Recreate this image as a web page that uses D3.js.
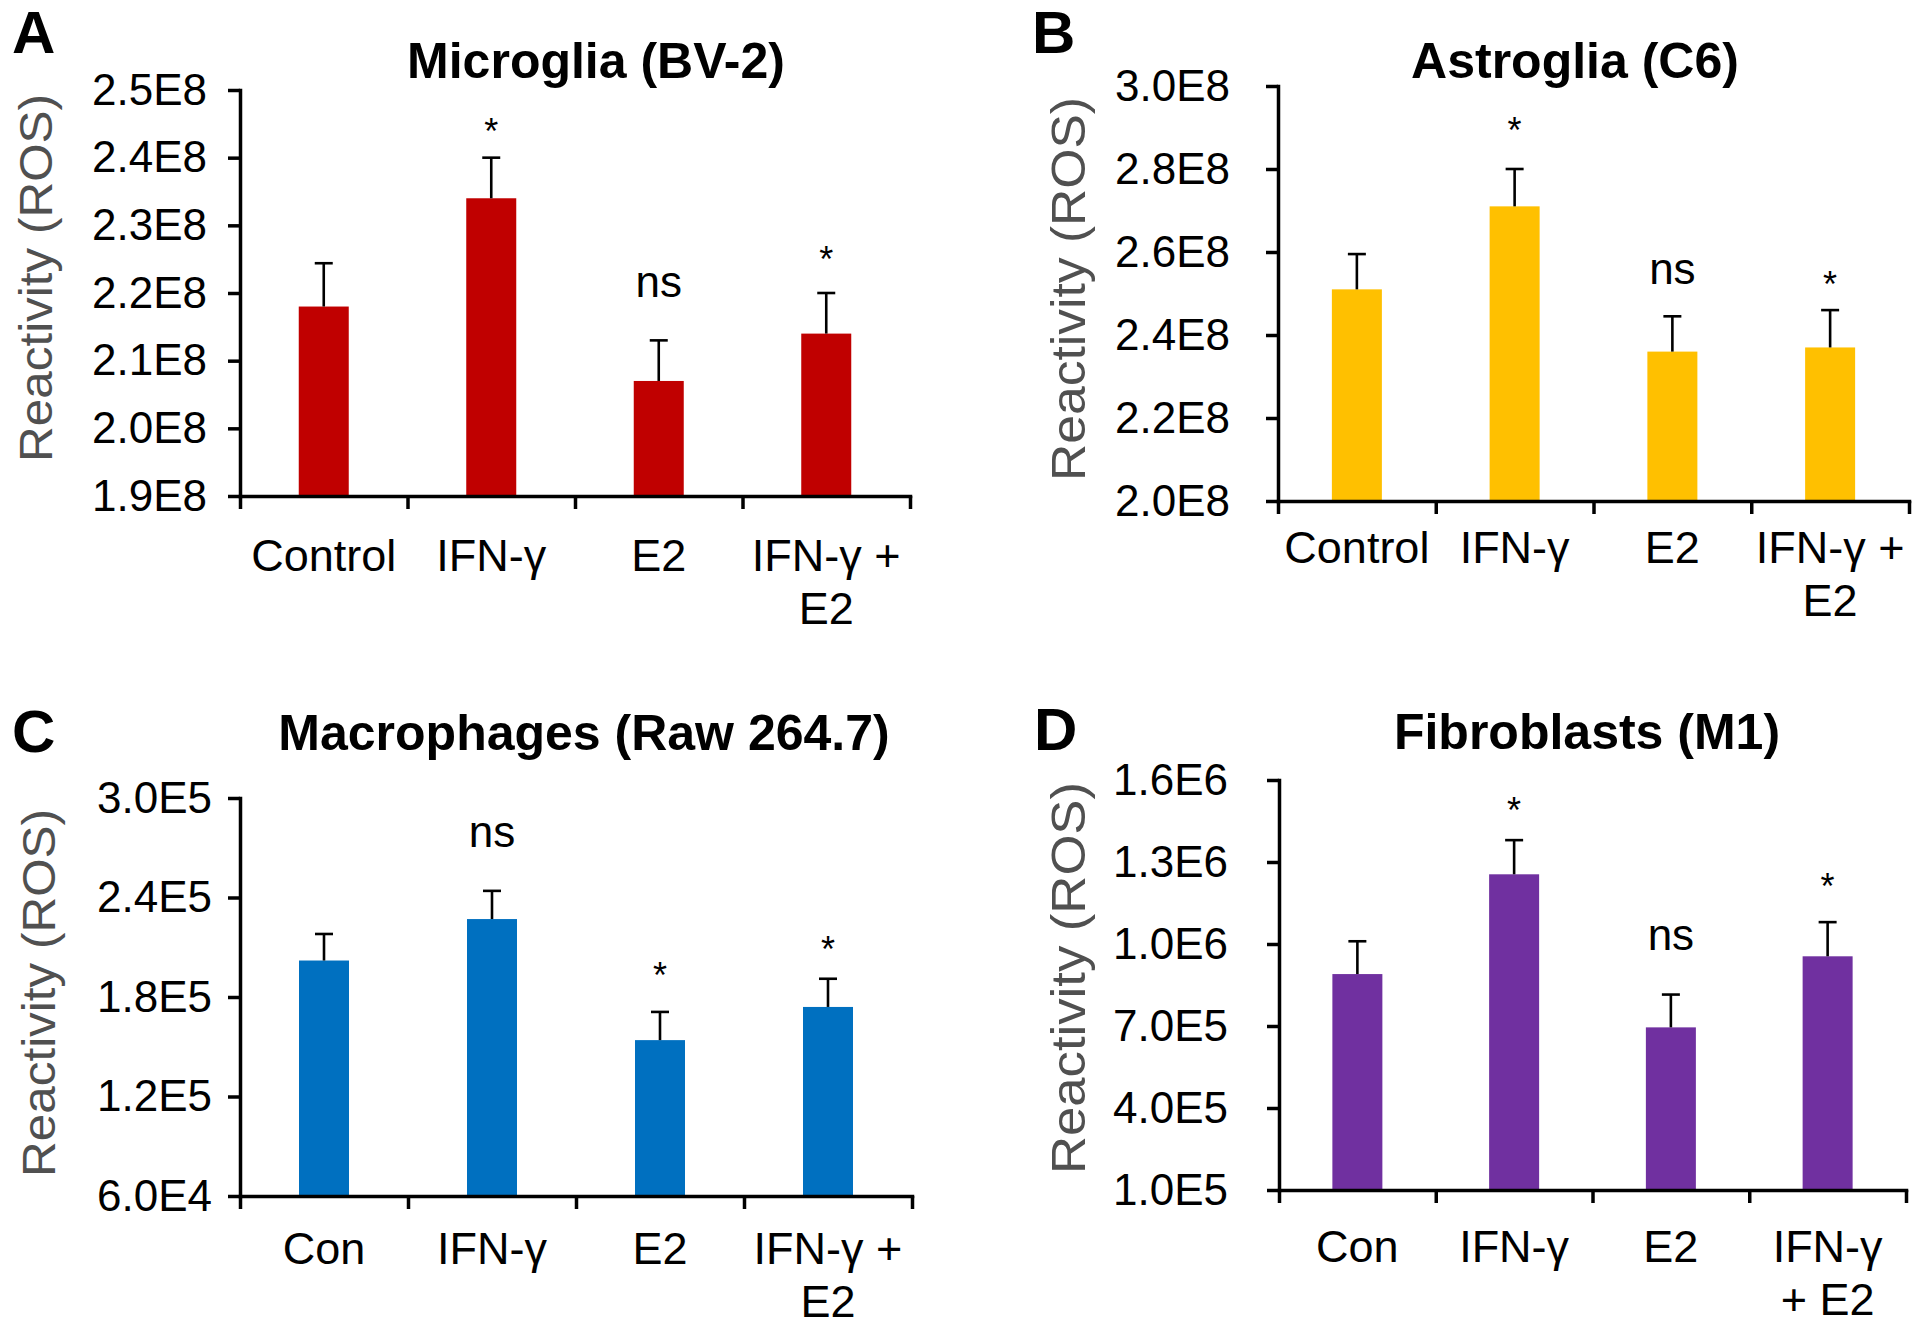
<!DOCTYPE html>
<html>
<head>
<meta charset="utf-8">
<script src="https://cdn.jsdelivr.net/npm/d3@7"></script>
<style>
  body { margin: 0; background: #fff; }
  svg { display: block; }
  text { font-family: "Liberation Sans", Arial, Helvetica, sans-serif; }
</style>
</head>
<body>
<svg id="chart" width="1920" height="1332"></svg>
<script>
// ---------------- DATA ----------------
// Panel A: Microglia (BV-2)
const titleA = "Microglia (BV-2)";
const categoriesA = ["Control", "IFN-γ", "E2", "IFN-γ +|E2"];
const valuesA = [2.18e8, 2.34e8, 2.07e8, 2.14e8];
const errorsA = [0.064e8, 0.06e8, 0.06e8, 0.06e8];
const marksA = ["", "*", "ns", "*"];
const markLevelA = [null, 2.45e8, 2.21e8, 2.26e8];
const tickValuesA = [1.9e8, 2.0e8, 2.1e8, 2.2e8, 2.3e8, 2.4e8, 2.5e8];
const tickLabelsA = ["1.9E8", "2.0E8", "2.1E8", "2.2E8", "2.3E8", "2.4E8", "2.5E8"];

// Panel B: Astroglia (C6)
const titleB = "Astroglia (C6)";
const categoriesB = ["Control", "IFN-γ", "E2", "IFN-γ +|E2"];
const valuesB = [2.51e8, 2.71e8, 2.36e8, 2.37e8];
const errorsB = [0.085e8, 0.09e8, 0.085e8, 0.09e8];
const marksB = ["", "*", "ns", "*"];
const markLevelB = [null, 2.91e8, 2.55e8, 2.54e8];
const tickValuesB = [2.0e8, 2.2e8, 2.4e8, 2.6e8, 2.8e8, 3.0e8];
const tickLabelsB = ["2.0E8", "2.2E8", "2.4E8", "2.6E8", "2.8E8", "3.0E8"];

// Panel C: Macrophages (Raw 264.7)
const titleC = "Macrophages (Raw 264.7)";
const categoriesC = ["Con", "IFN-γ", "E2", "IFN-γ +|E2"];
const valuesC = [2.02e5, 2.27e5, 1.54e5, 1.74e5];
const errorsC = [0.16e5, 0.17e5, 0.17e5, 0.17e5];
const marksC = ["", "ns", "*", "*"];
const markLevelC = [null, 2.77e5, 1.975e5, 2.13e5];
const tickValuesC = [0.6e5, 1.2e5, 1.8e5, 2.4e5, 3.0e5];
const tickLabelsC = ["6.0E4", "1.2E5", "1.8E5", "2.4E5", "3.0E5"];

// Panel D: Fibroblasts (M1)
const titleD = "Fibroblasts (M1)";
const categoriesD = ["Con", "IFN-γ", "E2", "IFN-γ|+ E2"];
const valuesD = [8.9e5, 1.255e6, 6.95e5, 9.55e5];
const errorsD = [1.2e5, 1.25e5, 1.2e5, 1.25e5];
const marksD = ["", "*", "ns", "*"];
const markLevelD = [null, 1.516e6, 1.018e6, 1.238e6];
const tickValuesD = [1.0e5, 4.0e5, 7.0e5, 1.0e6, 1.3e6, 1.6e6];
const tickLabelsD = ["1.0E5", "4.0E5", "7.0E5", "1.0E6", "1.3E6", "1.6E6"];

const yAxisTitle = "Reactivity (ROS)";

// ---------------- LAYOUT / STYLE ----------------
const panels = [
  { letter: "A", title: titleA, cats: categoriesA, vals: valuesA, errs: errorsA, marks: marksA, markLv: markLevelA,
    ticks: tickValuesA, tickLabels: tickLabelsA, color: "#C00000",
    x0: 240, x1: 910, yTop: 90, yBot: 496, tickPad: 21, labOff: 75,
    titleX: 596, titleY: 78, letX: 12, letY: 53, ylabX: 52, ylabY: 278, ylabLen: 368, ylabFs: 46 },
  { letter: "B", title: titleB, cats: categoriesB, vals: valuesB, errs: errorsB, marks: marksB, markLv: markLevelB,
    ticks: tickValuesB, tickLabels: tickLabelsB, color: "#FFC000",
    x0: 1278, x1: 1909, yTop: 86, yBot: 501, tickPad: 36, labOff: 62,
    titleX: 1575, titleY: 78, letX: 1032, letY: 53, ylabX: 1085, ylabY: 289, ylabLen: 384, ylabFs: 48 },
  { letter: "C", title: titleC, cats: categoriesC, vals: valuesC, errs: errorsC, marks: marksC, markLv: markLevelC,
    ticks: tickValuesC, tickLabels: tickLabelsC, color: "#0070C0",
    x0: 240, x1: 912, yTop: 798, yBot: 1196, tickPad: 16, labOff: 68,
    titleX: 584, titleY: 750, letX: 12, letY: 752, ylabX: 55, ylabY: 993, ylabLen: 368, ylabFs: 46 },
  { letter: "D", title: titleD, cats: categoriesD, vals: valuesD, errs: errorsD, marks: marksD, markLv: markLevelD,
    ticks: tickValuesD, tickLabels: tickLabelsD, color: "#7030A0",
    x0: 1279, x1: 1906, yTop: 780, yBot: 1190, tickPad: 39, labOff: 72,
    titleX: 1587, titleY: 749, letX: 1034, letY: 750, ylabX: 1085, ylabY: 978, ylabLen: 392, ylabFs: 48 }
];

const svg = d3.select("#chart");
const barW = 50, capW = 18;

panels.forEach(p => {
  const g = svg.append("g");
  const domainMin = d3.min(p.ticks), domainMax = d3.max(p.ticks);
  const y = d3.scaleLinear().domain([domainMin, domainMax]).range([p.yBot, p.yTop]);
  const x = d3.scaleBand().domain(p.cats).range([p.x0, p.x1]).padding(0);
  const xb = d3.scaleLinear().domain([0, p.cats.length]).range([p.x0, p.x1]);

  // bars
  g.selectAll("rect.bar").data(p.vals).enter().append("rect")
    .attr("class", "bar")
    .attr("x", (d, i) => x(p.cats[i]) + x.bandwidth() / 2 - barW / 2)
    .attr("width", barW)
    .attr("y", d => y(d))
    .attr("height", d => p.yBot - y(d))
    .attr("fill", p.color);

  // error bars
  const eg = g.selectAll("g.err").data(p.vals).enter().append("g").attr("class", "err");
  eg.append("line")
    .attr("x1", (d, i) => x(p.cats[i]) + x.bandwidth() / 2)
    .attr("x2", (d, i) => x(p.cats[i]) + x.bandwidth() / 2)
    .attr("y1", d => y(d))
    .attr("y2", (d, i) => y(d + p.errs[i]))
    .attr("stroke", "#000").attr("stroke-width", 2.6);
  eg.append("line")
    .attr("x1", (d, i) => x(p.cats[i]) + x.bandwidth() / 2 - capW / 2)
    .attr("x2", (d, i) => x(p.cats[i]) + x.bandwidth() / 2 + capW / 2)
    .attr("y1", (d, i) => y(d + p.errs[i]))
    .attr("y2", (d, i) => y(d + p.errs[i]))
    .attr("stroke", "#000").attr("stroke-width", 2.6);

  // y axis
  const yAxis = d3.axisLeft(y).tickValues(p.ticks)
    .tickFormat((d, i) => p.tickLabels[i]).tickSize(12).tickSizeOuter(0).tickPadding(p.tickPad);
  const ya = g.append("g").attr("transform", `translate(${p.x0},0)`).call(yAxis);
  ya.selectAll("text").attr("font-size", 44).attr("fill", "#000")
    .style("font-family", '"Liberation Sans", Arial, sans-serif');

  // x axis (boundary ticks)
  const xAxis = d3.axisBottom(xb).tickValues(d3.range(0, p.cats.length + 1))
    .tickFormat("").tickSize(13).tickSizeOuter(0);
  const xa = g.append("g").attr("transform", `translate(0,${p.yBot})`).call(xAxis);

  [ya, xa].forEach(a => {
    a.select(".domain").attr("stroke", "#000").attr("stroke-width", 3.5).attr("stroke-linecap", "square");
    a.selectAll(".tick line").attr("stroke", "#000").attr("stroke-width", 3.5);
  });

  // category labels
  const cl = g.selectAll("text.cat").data(p.cats).enter().append("text")
    .attr("class", "cat")
    .attr("x", d => x(d) + x.bandwidth() / 2)
    .attr("y", p.yBot + p.labOff)
    .attr("text-anchor", "middle")
    .attr("font-size", 45)
    .attr("fill", "#000");
  cl.each(function(d) {
    const lines = d.split("|");
    const t = d3.select(this);
    lines.forEach((ln, k) => {
      t.append("tspan").attr("x", x(d) + x.bandwidth() / 2).attr("dy", k === 0 ? 0 : 53).text(ln);
    });
  });

  // significance marks
  p.marks.forEach((m, i) => {
    if (!m) return;
    const cx = x(p.cats[i]) + x.bandwidth() / 2;
    const cy = y(p.markLv[i]);
    if (m === "*") {
      g.append("text").attr("x", cx).attr("y", cy + 20).attr("text-anchor", "middle")
        .attr("font-size", 36).attr("fill", "#000").text("*");
    } else {
      g.append("text").attr("x", cx).attr("y", cy + 11).attr("text-anchor", "middle")
        .attr("font-size", 44).attr("fill", "#000").text(m);
    }
  });

  // title
  g.append("text").attr("x", p.titleX).attr("y", p.titleY).attr("text-anchor", "middle")
    .attr("font-size", 50).attr("font-weight", "bold").attr("fill", "#000").text(p.title);

  // panel letter
  g.append("text").attr("x", p.letX).attr("y", p.letY)
    .attr("font-size", 60).attr("font-weight", "bold").attr("fill", "#000").text(p.letter);

  // y axis title
  g.append("text")
    .attr("transform", `translate(${p.ylabX},${p.ylabY}) rotate(-90)`)
    .attr("text-anchor", "middle")
    .attr("font-size", p.ylabFs)
    .attr("textLength", p.ylabLen).attr("lengthAdjust", "spacingAndGlyphs")
    .attr("fill", "#505050")
    .text(yAxisTitle);
});
</script>
</body>
</html>
